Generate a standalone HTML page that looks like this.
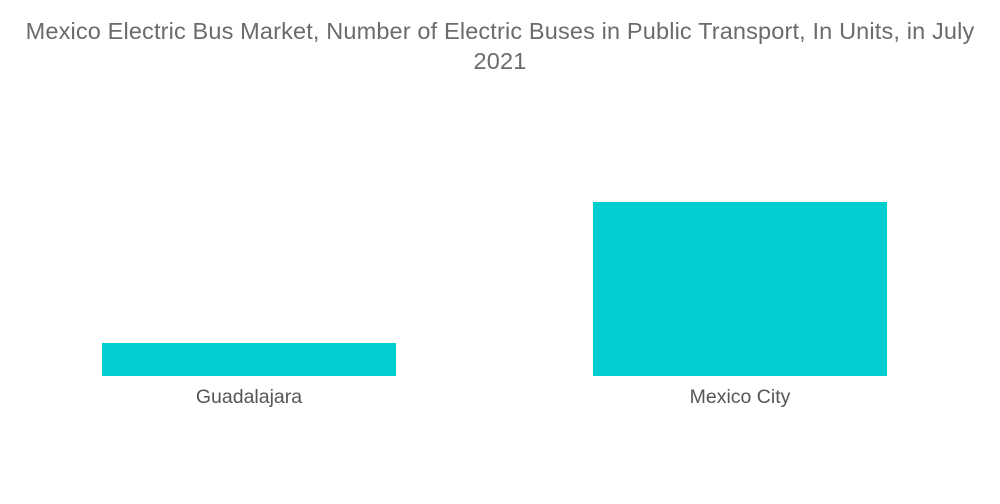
<!DOCTYPE html>
<html>
<head>
<meta charset="utf-8">
<style>
  html,body{margin:0;padding:0;background:#fff;}
  body{width:1000px;height:504px;overflow:hidden;font-family:"Liberation Sans",sans-serif;}
  #title{position:absolute;left:0;top:16px;width:1000px;text-align:center;color:#6b6b6b;font-size:23.5px;line-height:30px;letter-spacing:0.15px;}
  svg{position:absolute;left:0;top:0;}
</style>
</head>
<body>
<div id="title">Mexico Electric Bus Market, Number of Electric Buses in Public Transport, In Units, in July<br>2021</div>
<svg id="chart" width="1000" height="504"></svg>
<script>
const categories = ["Guadalajara", "Mexico City"];
const values = [33, 174];

const svg = document.getElementById('chart');
const NS = 'http://www.w3.org/2000/svg';
const baseline = 376, plotLeft = 102, band = 491, barW = 294;
const yMax = 174, plotH = 174;
function y(v){ return baseline - v / yMax * plotH; }
function x(i){ return plotLeft + i * band; }

categories.forEach((c, i) => {
  const r = document.createElementNS(NS, 'rect');
  r.setAttribute('x', x(i));
  r.setAttribute('y', y(values[i]));
  r.setAttribute('width', barW);
  r.setAttribute('height', baseline - y(values[i]));
  r.setAttribute('fill', '#00ced1');
  
  
  svg.appendChild(r);

  const t = document.createElementNS(NS, 'text');
  t.setAttribute('x', x(i) + barW / 2);
  t.setAttribute('y', 403);
  t.setAttribute('text-anchor', 'middle');
  t.setAttribute('font-size', '19.5');
  t.setAttribute('fill', '#555');
  t.setAttribute('font-family', 'Liberation Sans, sans-serif');
  t.textContent = c;
  
  
  svg.appendChild(t);
});
</script>
</body>
</html>
